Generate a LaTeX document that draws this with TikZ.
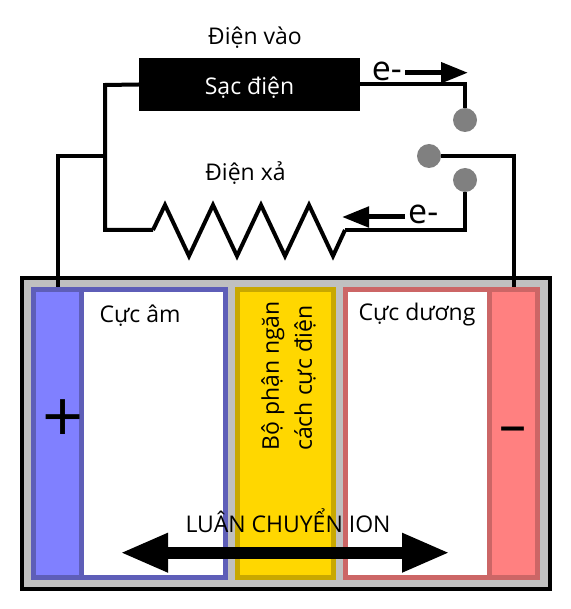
\documentclass[tikz,border=0pt]{standalone}
\usepackage{fontspec}
\setmainfont{Open Sans}
\usetikzlibrary{arrows.meta,positioning,calc}
\definecolor{caseg}{HTML}{C0C0C0}
\definecolor{negc}{HTML}{8080FF}
\definecolor{negb}{HTML}{5E5EB8}
\definecolor{sepc}{HTML}{FFD700}
\definecolor{sepb}{HTML}{C8A800}
\definecolor{posc}{HTML}{FF8080}
\definecolor{posb}{HTML}{CC6666}
\begin{document}
\begin{tikzpicture}[
  x=1pt, y=-1pt, font=\fontsize{23}{28}\selectfont,
  batt/.style={draw=black,line width=4pt,fill=caseg,inner sep=0pt,minimum width=528.5pt,minimum height=311.5pt},
  cell/.style={line width=5pt,inner sep=0pt,minimum height=288pt},
  wire/.style={draw=black,line width=4pt},
  swdot/.style={circle,fill=black!50,inner sep=0pt,minimum size=24pt},
  charger/.style={fill=black,inner sep=0pt,minimum width=221pt,minimum height=53pt},
  lab/.style={inner sep=0pt},
  earr/.style={-{Triangle[length=27pt,width=20pt]},line width=5pt},
  ionarr/.style={{Triangle[length=48pt,width=36pt]}-{Triangle[length=48pt,width=36pt]},line width=12pt}]
\useasboundingbox (0,0) rectangle (570,609);
\node[batt](case) at (285.75,433.25){};
\node[cell,draw=negb,fill=white,minimum width=143.5pt](negw) at (153.25,433){};
\node[cell,draw=negb,fill=negc,minimum width=48pt](neg) at (57.5,433){};
\node[cell,draw=sepb,fill=sepc,minimum width=96pt](sep) at (285.5,433){};
\node[cell,draw=posb,fill=white,minimum width=143.5pt](posw) at (417.5,433){};
\node[cell,draw=posb,fill=posc,minimum width=48.5pt](pos) at (513.5,433){};
\node[charger](chg) at (249.5,84.5){};
\node[lab,text=white](chglab) at (249.5,88){Sạc điện};
\node[lab](inlab) at (255,38){Điện vào};
\node[swdot](swa) at (465,120){};
\node[swdot](swb) at (429,156){};
\node[swdot](swc) at (465,180){};
\coordinate (top) at (105,85);
\coordinate (junc) at (105,156);
\coordinate (bot) at (105,230);
\coordinate (resl) at (153,230);
\coordinate (resr) at (345,230);
\draw[wire](chg.west)--(top)--(bot)--(resl);
\draw[wire](neg.north)|-(junc);
\draw[wire](pos.north)|-(swb);
\draw[wire](chg.east)-|(swa);
\draw[wire](swc)|-(resr);
\draw[wire,line join=miter](resl)--++(12,-25)--++(24,51)--++(24,-51)--++(24,51)--++(24,-51)--++(24,51)--++(24,-51)--++(24,51)--(resr);
\node[lab](outlab) at (245.5,173){Điện xả};
\coordinate (ea) at (405,72.7);
\coordinate (eb) at (468,72.7);
\coordinate (ec) at (405,217);
\coordinate (ed) at (342,217);
\draw[earr](ea)--(eb);
\draw[earr](ec)--(ed);
\node[lab,font=\fontsize{34}{36}\selectfont,left=3pt of ea,yshift=1pt](ela){e-};
\node[lab,font=\fontsize{34}{36}\selectfont,right=3pt of ec,yshift=3pt](elb){e-};
\node[lab](neglab) at (140,316){Cực âm};
\node[lab](poslab) at (417,315){Cực dương};
\node[lab,rotate=90,align=left,font=\fontsize{23}{33}\selectfont](seplab) at (288.5,376){Bộ phận ngăn\\cách cực điện};
\coordinate (ionl) at (120,552.7);
\coordinate (ionr) at (450,552.7);
\draw[ionarr](ionl)--(ionr);
\node[lab](ionlab) at (288,521){LUÂN CHUYỂN ION};
\node[lab,font=\fontsize{72}{72}\selectfont](plus) at (63,421){+};
\node[lab,font=\fontsize{54}{54}\selectfont](minus) at (513,435){–};
\end{tikzpicture}
\end{document}
